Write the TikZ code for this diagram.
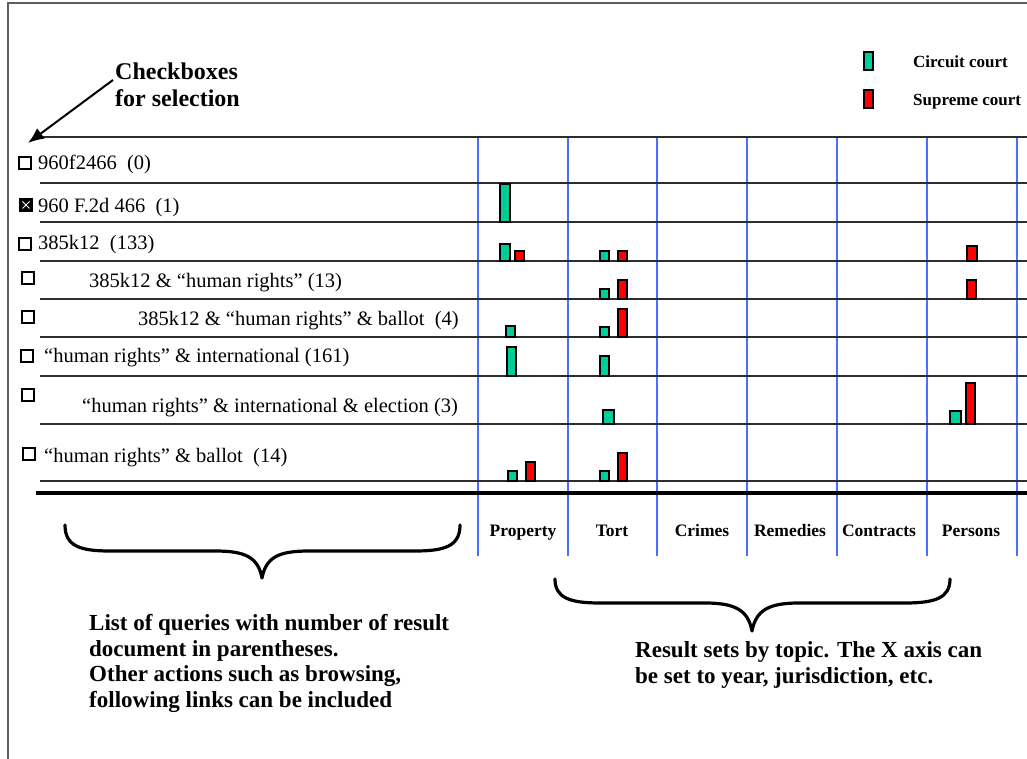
\documentclass[tikz,border=0pt]{standalone}
\usepackage{fontspec}
\setmainfont{Liberation Serif}
\usetikzlibrary{arrows.meta}
\definecolor{circuit}{RGB}{0,204,153}
\definecolor{supreme}{RGB}{255,0,0}
\definecolor{gridblue}{RGB}{72,112,255}
\definecolor{rulegrey}{RGB}{45,45,45}
\definecolor{framegrey}{RGB}{95,95,95}
\tikzset{
  rowline/.style={draw=rulegrey, line width=1.6pt},
  baseline rule/.style={draw=black, line width=3.4pt},
  colline/.style={draw=gridblue, line width=1.4pt},
  gbar/.style={fill=circuit, draw=black, line width=1.4pt},
  rbar/.style={fill=supreme, draw=black, line width=1.4pt},
  cbox/.style={draw=black, line width=1.6pt},
  query/.style={anchor=base west, inner sep=0pt, font=\fontsize{20.5}{24}\selectfont},
  topic/.style={anchor=base, inner sep=0pt, font=\fontsize{17.5}{20}\selectfont\bfseries},
  legendtext/.style={anchor=base west, inner sep=0pt, font=\fontsize{17}{20}\selectfont\bfseries},
  note/.style={anchor=base west, inner sep=0pt, align=left, font=\fontsize{23}{25.5}\selectfont\bfseries},
  callout/.style={anchor=base west, inner sep=0pt, align=left, font=\fontsize{24}{27}\selectfont\bfseries},
  brace/.style={draw=black, line width=3.2pt, line cap=round, line join=round},
}
\begin{document}
\begin{tikzpicture}[x=1pt, y=-1pt]
\useasboundingbox (0,0) rectangle (1027,759);

% outer frame (top and left edges)
\draw[framegrey, line width=1.5pt] (8,759) -- (8,3) -- (1027,3);

% column separators
\foreach \cx in {478,568,657,747,837,927,1017}
  \draw[colline] (\cx,137) -- (\cx,556);

% row rules
\draw[rowline] (40,137) -- (1027,137);
\foreach \ry in {183,222,261,299,337,376,424,481}
  \draw[rowline] (40,\ry) -- (1027,\ry);
\draw[baseline rule] (36,493) -- (1027,493);

% checkboxes
\draw[cbox] (19,157) rectangle (31,169);
\fill[black] (20,199) rectangle (32,211);
\draw[white, line width=0.9pt] (22.5,201.5) -- (29.5,208.5) (29.5,201.5) -- (22.5,208.5);
\draw[cbox] (20,199) rectangle (32,211);
\draw[cbox] (19,238) rectangle (31,250);
\draw[cbox] (22,272) rectangle (34,284);
\draw[cbox] (22,311) rectangle (34,323);
\draw[cbox] (21,350) rectangle (33,362);
\draw[cbox] (22,389) rectangle (34,401);
\draw[cbox] (23,448) rectangle (35,460);

% query list
\node[query] (q1) at (38,170) {960f2466\ \ (0)};
\node[query] (q2) at (38,213) {960 F.2d 466\ \ (1)};
\node[query] (q3) at (38,250) {385k12\ \ (133)};
\node[query] (q4) at (89,287) {385k12 \& “human rights” (13)};
\node[query] (q5) at (138,325) {385k12 \& “human rights” \& ballot\ \ (4)};
\node[query] (q6) at (44,362) {“human rights” \& international (161)};
\node[query] (q7) at (82,412) {“human rights” \& international \& election (3)};
\node[query] (q8) at (44,462) {“human rights” \& ballot\ \ (14)};

% topic labels
\node[topic] (tProperty)  at (523,536) {Property};
\node[topic] (tTort)      at (612,536) {Tort};
\node[topic] (tCrimes)    at (702,536) {Crimes};
\node[topic] (tRemedies)  at (790,536) {Remedies};
\node[topic] (tContracts) at (879,536) {Contracts};
\node[topic] (tPersons)   at (971,536) {Persons};

% result bars: circuit court
\draw[gbar] (500,184) rectangle (510,222);
\draw[gbar] (500,244) rectangle (510,261);
\draw[gbar] (600,251) rectangle (609,261);
\draw[gbar] (600,289) rectangle (609,299);
\draw[gbar] (506,326) rectangle (515,337);
\draw[gbar] (600,327) rectangle (609,337);
\draw[gbar] (507,347) rectangle (516,376);
\draw[gbar] (600,356) rectangle (609,376);
\draw[gbar] (603,410) rectangle (614,424);
\draw[gbar] (950,411) rectangle (961,424);
\draw[gbar] (508,471) rectangle (517,481);
\draw[gbar] (600,471) rectangle (609,481);

% result bars: supreme court
\draw[rbar] (515,251) rectangle (524,261);
\draw[rbar] (618,251) rectangle (627,261);
\draw[rbar] (967,246) rectangle (977,261);
\draw[rbar] (618,280) rectangle (627,299);
\draw[rbar] (967,280) rectangle (976,299);
\draw[rbar] (618,309) rectangle (627,337);
\draw[rbar] (966,383) rectangle (975,424);
\draw[rbar] (526,462) rectangle (535,481);
\draw[rbar] (618,453) rectangle (627,481);

% legend
\draw[gbar] (864,52) rectangle (873,70);
\node[legendtext] (lgCircuit) at (913,68) {Circuit court};
\draw[rbar] (864,90) rectangle (873,108);
\node[legendtext] (lgSupreme) at (913,106) {Supreme court};

% checkbox callout (multi-line nodes sit on the baseline of their last line)
\node[callout] (cbNote) at (115,107) {Checkboxes\\for selection};
\coordinate (cbTail) at (113,80);
\coordinate (cbTip) at (28,143);
\draw[black, line width=2pt, -{Latex[length=16pt,width=13pt]}] (cbTail) -- (cbTip);

% braces
\draw[brace] (65,525) .. controls (65,546) and (80,551) .. (110,551)
  -- (215,551) .. controls (245,551) and (258,557) .. (262,578)
  .. controls (266,557) and (279,551) .. (309,551)
  -- (415,551) .. controls (445,551) and (460,546) .. (460,525);
\draw[brace] (555,579) .. controls (555,598) and (570,603) .. (600,603)
  -- (705,603) .. controls (735,603) and (748,610) .. (752,631)
  .. controls (756,610) and (769,603) .. (799,603)
  -- (905,603) .. controls (935,603) and (950,598) .. (950,579);

% explanatory notes
\node[note] (listNote) at (89,707) {List of queries with number of result\\document in parentheses.\\Other actions such as browsing,\\following links can be included};
\node[note] (topicNote) at (635,683) {Result sets by topic. The X axis can\\be set to year, jurisdiction, etc.};
\end{tikzpicture}
\end{document}
